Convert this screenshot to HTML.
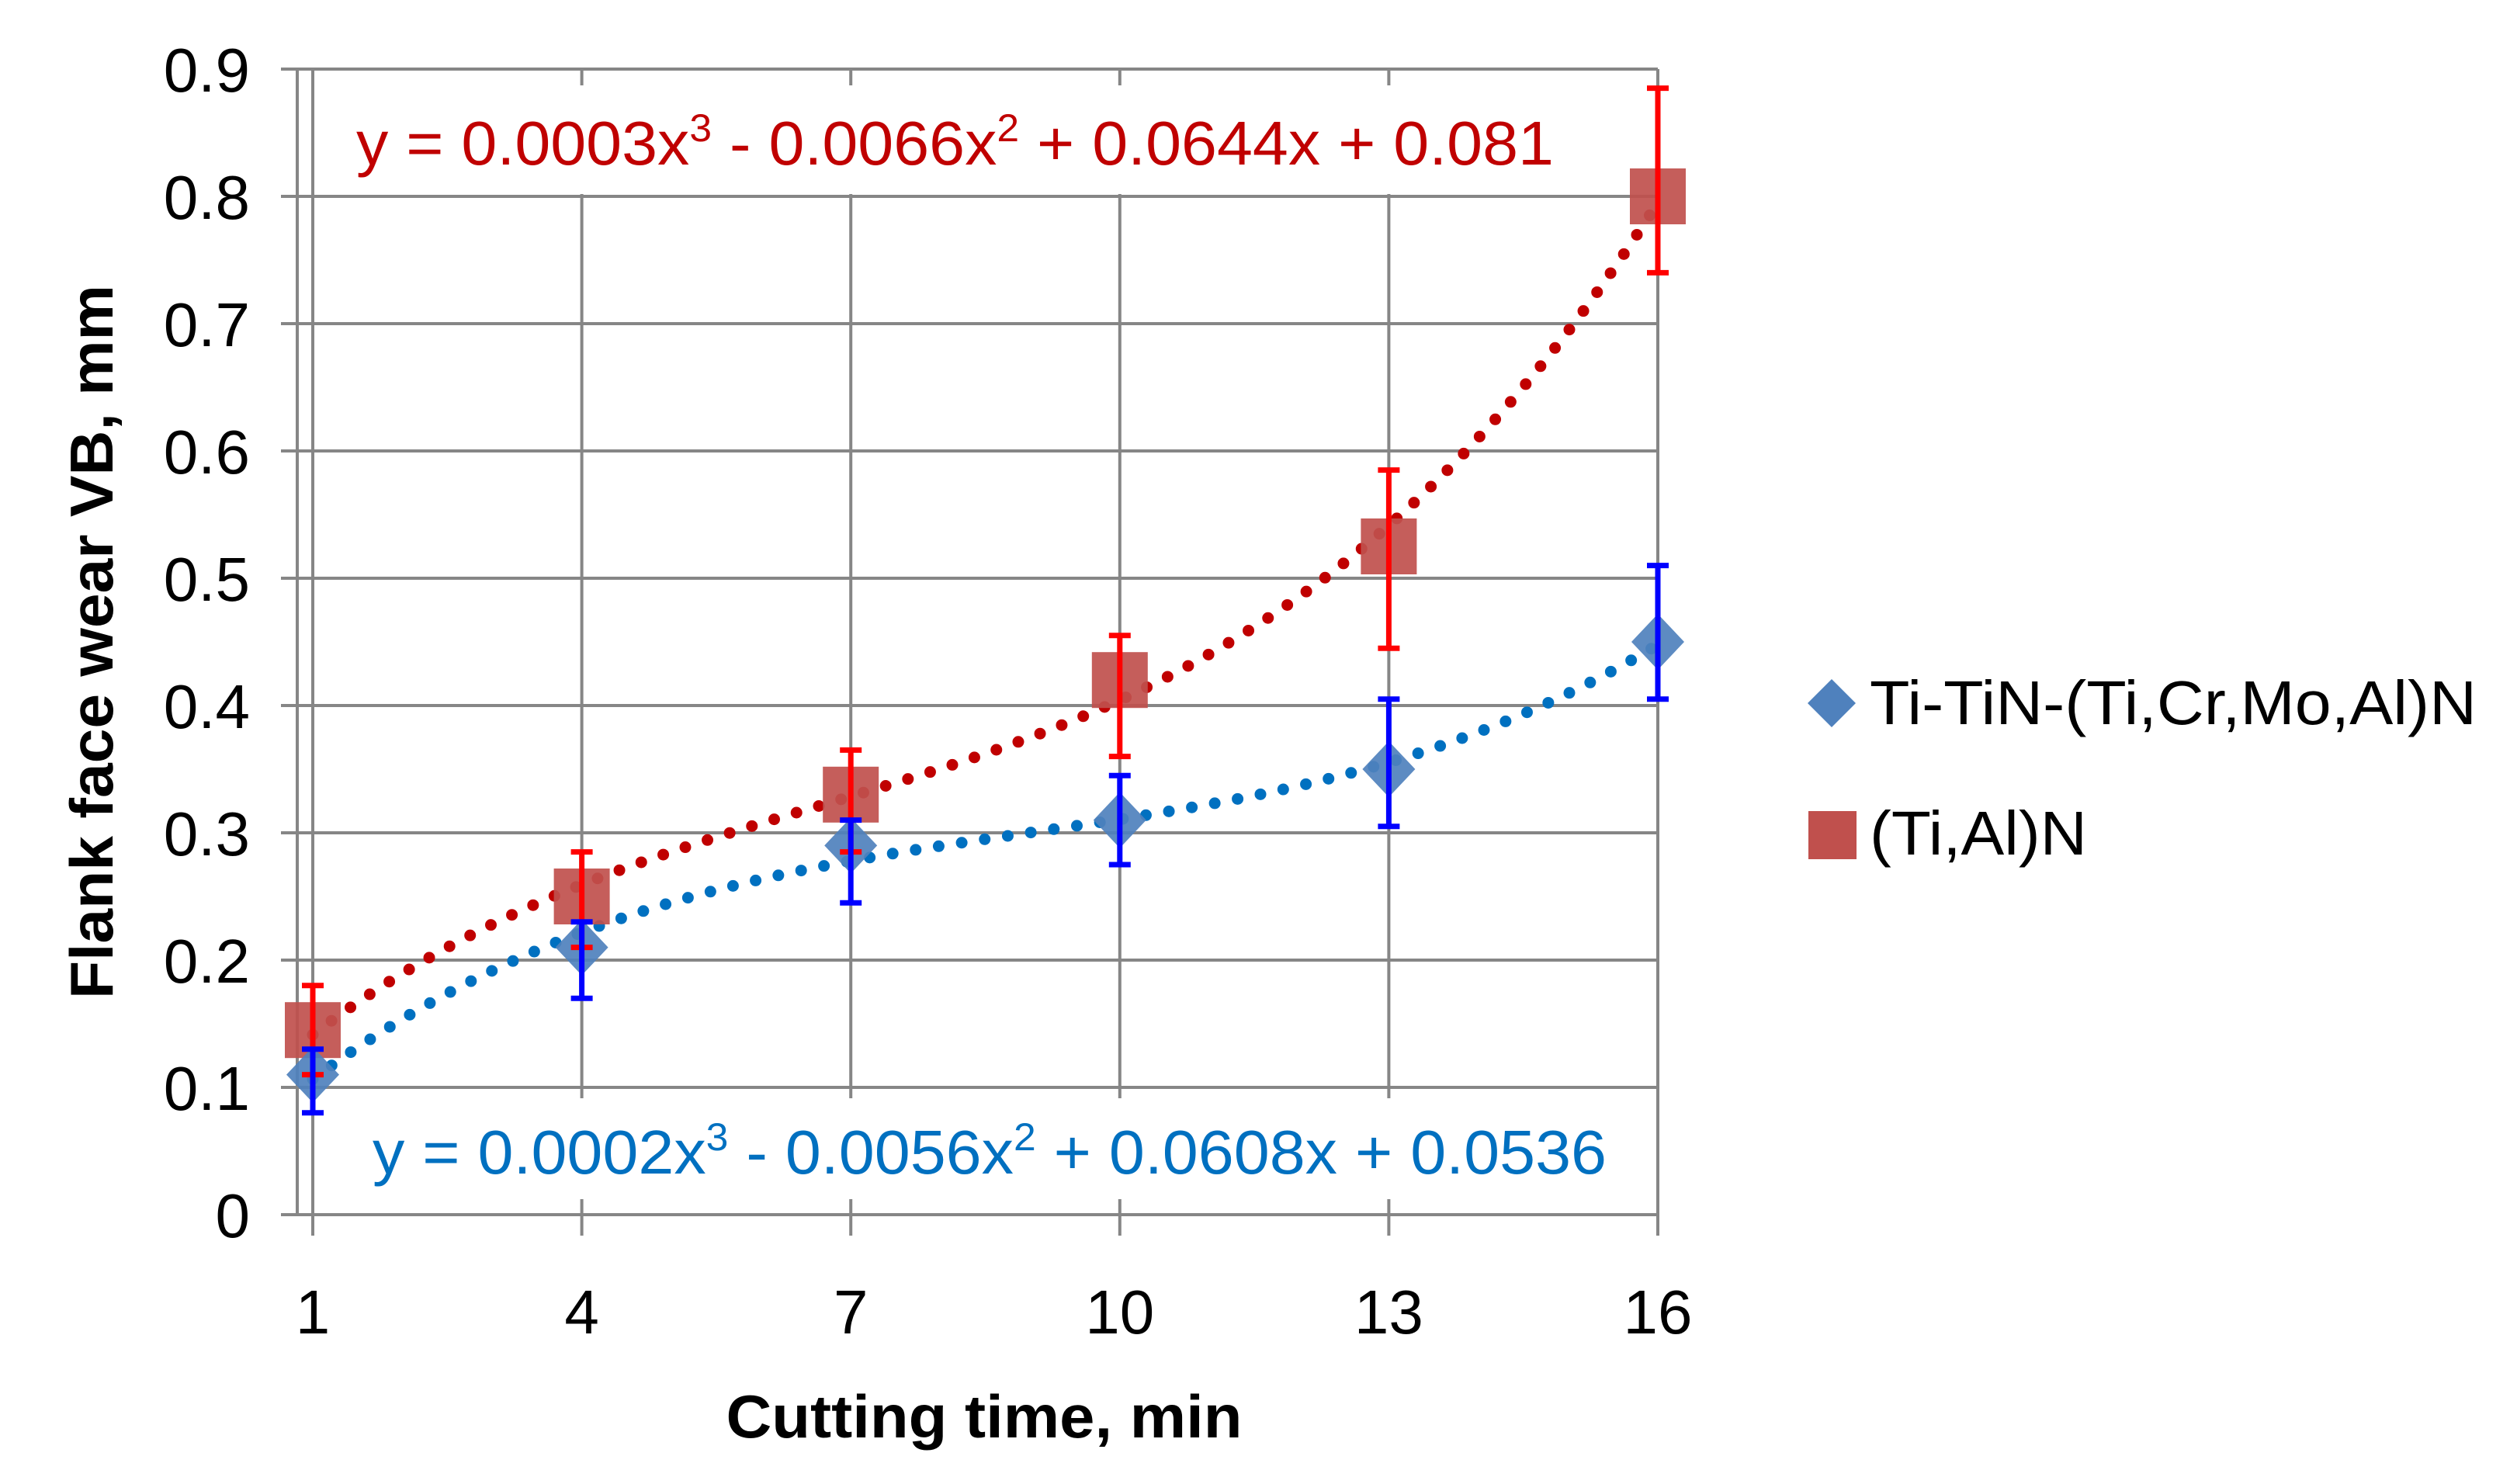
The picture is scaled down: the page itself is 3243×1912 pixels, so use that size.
<!DOCTYPE html>
<html><head><meta charset="utf-8"><style>
html,body{margin:0;padding:0;background:#fff}
svg{display:block}
text{font-family:"Liberation Sans",sans-serif}
</style></head><body>
<svg id="chart" width="3243" height="1912" viewBox="0 0 3243 1912" xmlns="http://www.w3.org/2000/svg">
<g id="grid"></g>
<rect x="430" y="110" width="1610" height="140" fill="#fff"/>
<rect x="455" y="1415" width="1660" height="130" fill="#fff"/>
<g id="trend"></g>
<g id="marks"></g>
<g id="labels"></g>
<text x="459" y="212" font-size="80" fill="#C00000" textLength="1543" lengthAdjust="spacingAndGlyphs">y = 0.0003x<tspan dy="-30" font-size="50">3</tspan><tspan dy="30"> - 0.0066x</tspan><tspan dy="-30" font-size="50">2</tspan><tspan dy="30"> + 0.0644x + 0.081</tspan></text>
<text x="480" y="1512" font-size="80" fill="#0070C0" textLength="1590" lengthAdjust="spacingAndGlyphs">y = 0.0002x<tspan dy="-30" font-size="50">3</tspan><tspan dy="30"> - 0.0056x</tspan><tspan dy="-30" font-size="50">2</tspan><tspan dy="30"> + 0.0608x + 0.0536</tspan></text>
<text x="1268" y="1852" font-size="78" font-weight="bold" text-anchor="middle" textLength="665" lengthAdjust="spacingAndGlyphs">Cutting time, min</text>
<text transform="translate(145,827) rotate(-90)" font-size="78" font-weight="bold" text-anchor="middle" textLength="920" lengthAdjust="spacingAndGlyphs">Flank face wear VB, mm</text>
<g>
<g>
<polygon points="2360,875 2391,906 2360,937 2329,906" fill="#4F81BD"/>
<text x="2409" y="933" font-size="80" textLength="782" lengthAdjust="spacingAndGlyphs">Ti-TiN-(Ti,Cr,Mo,Al)N</text>
</g>
<g>
<rect x="2330" y="1045" width="62" height="62" fill="#C0504D"/>
<text x="2409" y="1101" font-size="80" textLength="280" lengthAdjust="spacingAndGlyphs">(Ti,Al)N</text>
</g>
</g>
</svg>
<script>
const categories = [1, 4, 7, 10, 13, 16];
const yTicks = [0, 0.1, 0.2, 0.3, 0.4, 0.5, 0.6, 0.7, 0.8, 0.9];
const blueValues = [0.11, 0.21, 0.29, 0.31, 0.35, 0.45];
const blueLow = [0.08, 0.17, 0.245, 0.275, 0.305, 0.405];
const blueHigh = [0.13, 0.23, 0.31, 0.345, 0.405, 0.51];
const redValues = [0.145, 0.25, 0.33, 0.42, 0.525, 0.80];
const redLow = [0.11, 0.21, 0.285, 0.36, 0.445, 0.74];
const redHigh = [0.18, 0.285, 0.365, 0.455, 0.585, 0.885];

const NS = "http://www.w3.org/2000/svg";
const X0 = 403, XSTEP = 346.6, Y0 = 1565, YMAX = 89, YTOP = 0.9;
function xs(i){ return X0 + i * XSTEP; }
function ys(v){ return Y0 - (v / YTOP) * (Y0 - YMAX); }
function mk(tag, attrs, parent){
  const e = document.createElementNS(NS, tag);
  for (const k in attrs) e.setAttribute(k, attrs[k]);
  parent.appendChild(e); return e;
}
const grid = document.getElementById('grid');
const labels = document.getElementById('labels');
const marks = document.getElementById('marks');
const trend = document.getElementById('trend');
const xRight = xs(categories.length - 1);

yTicks.forEach(t => {
  const l = mk('line', {x1: 362, x2: xRight, y1: ys(t), y2: ys(t), stroke: '#868686', 'stroke-width': 4}, grid);
  
  
  const tx = mk('text', {x: 322, y: ys(t) + 29, 'font-size': 80, 'text-anchor': 'end'}, labels);
  tx.textContent = String(t);
  
  
});
const ax = mk('line', {x1: 383, x2: 383, y1: YMAX, y2: Y0, stroke: '#868686', 'stroke-width': 4}, grid);


categories.forEach((c, i) => {
  const l = mk('line', {x1: xs(i), x2: xs(i), y1: YMAX, y2: 1592, stroke: '#868686', 'stroke-width': 4}, grid);
  
  
  const tx = mk('text', {x: xs(i), y: 1718, 'font-size': 80, 'text-anchor': 'middle'}, labels);
  tx.textContent = String(c);
  
  
});

function fitCubic(vals){
  const n = vals.length, m = 4;
  const A = [];
  for (let r = 0; r < m; r++){ A.push(new Array(m + 1).fill(0)); }
  for (let k = 0; k < n; k++){
    const x = k + 1;
    for (let r = 0; r < m; r++){
      for (let c = 0; c < m; c++) A[r][c] += Math.pow(x, r + c);
      A[r][m] += vals[k] * Math.pow(x, r);
    }
  }
  for (let i = 0; i < m; i++){
    let p = i;
    for (let r = i + 1; r < m; r++) if (Math.abs(A[r][i]) > Math.abs(A[p][i])) p = r;
    const tmp = A[i]; A[i] = A[p]; A[p] = tmp;
    for (let r = 0; r < m; r++){
      if (r === i) continue;
      const f = A[r][i] / A[i][i];
      for (let c = i; c <= m; c++) A[r][c] -= f * A[i][c];
    }
  }
  return A.map((row, i) => row[m] / row[i]);
}
function drawTrend(vals, color, name){
  const co = fitCubic(vals);
  let d = '';
  const n = vals.length;
  for (let s = 0; s <= 200; s++){
    const x = 1 + (n - 1) * s / 200;
    const v = co[0] + co[1]*x + co[2]*x*x + co[3]*x*x*x;
    d += (s ? 'L' : 'M') + xs(x - 1).toFixed(1) + ',' + ys(v).toFixed(1);
  }
  const p = mk('path', {d: d, fill: 'none', stroke: color, 'stroke-width': 15, 'stroke-linecap': 'round', 'stroke-dasharray': '0 30'}, trend);
  
  
}

redValues.forEach((v, i) => {
  const r = mk('rect', {x: xs(i) - 36, y: ys(v) - 36, width: 72, height: 72, fill: '#C0504D', opacity: 0.92}, marks);
  
  
});
blueValues.forEach((v, i) => {
  const x = xs(i), y = ys(v);
  const p = mk('polygon', {points: `${x},${y-36} ${x+34},${y} ${x},${y+36} ${x-34},${y}`, fill: '#4F81BD', opacity: 0.92}, marks);
  
  
});
drawTrend(redValues, '#C00000', 'red-trendline');
drawTrend(blueValues, '#0070C0', 'blue-trendline');

function errBar(i, lo, hi, color, name){
  const g = mk('g', {stroke: color, 'stroke-width': 7}, marks);
  
  
  mk('line', {x1: xs(i), x2: xs(i), y1: ys(lo), y2: ys(hi)}, g);
  mk('line', {x1: xs(i) - 14, x2: xs(i) + 14, y1: ys(lo), y2: ys(lo)}, g);
  mk('line', {x1: xs(i) - 14, x2: xs(i) + 14, y1: ys(hi), y2: ys(hi)}, g);
}
redValues.forEach((v, i) => errBar(i, redLow[i], redHigh[i], '#FF0000', 'tial-n-error-bar'));
blueValues.forEach((v, i) => errBar(i, blueLow[i], blueHigh[i], '#0000FF', 'ti-tin-error-bar'));
</script>
</body></html>
